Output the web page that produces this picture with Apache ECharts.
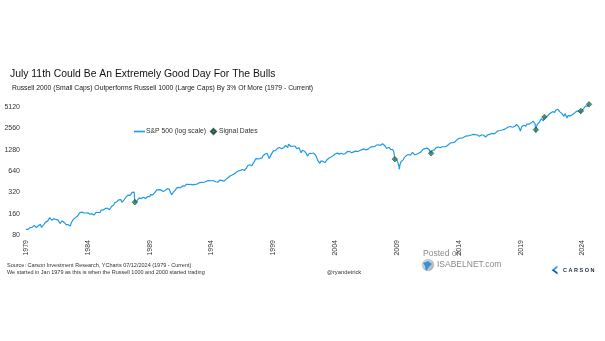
<!DOCTYPE html>
<html>
<head>
<meta charset="utf-8">
<script src="https://cdn.jsdelivr.net/npm/echarts@6/dist/echarts.min.js"></script>
<style>
  html, body { margin: 0; padding: 0; background: #ffffff; }
  #chart { width: 605px; height: 341px; }
</style>
</head>
<body>
<div id="chart"></div>
<script>
// S&P 500 month-end closes, one row per year, starting January 1979
const startValue = 96.11; // close on the first day of 1979
const closes1979to1988 = [
  99.93, 96.28, 101.59, 101.76, 99.08, 102.91, 103.81, 109.32, 109.32, 101.82, 106.16, 107.94,
  114.16, 113.66, 102.09, 106.29, 111.24, 114.24, 121.67, 122.38, 125.46, 127.47, 140.52, 135.76,
  129.55, 131.27, 136.00, 132.81, 132.59, 131.21, 130.92, 122.79, 116.18, 121.89, 126.35, 122.55,
  120.40, 113.11, 111.96, 116.44, 111.88, 109.61, 107.09, 119.51, 120.42, 133.71, 138.54, 140.64,
  145.30, 148.06, 152.96, 164.42, 162.39, 168.11, 162.56, 164.40, 166.07, 163.55, 166.40, 164.93,
  163.41, 157.06, 159.18, 160.05, 150.55, 153.18, 150.66, 166.68, 166.10, 166.09, 163.58, 167.24,
  179.63, 181.18, 180.66, 179.83, 189.55, 191.85, 190.92, 188.63, 182.08, 189.82, 202.17, 211.28,
  211.78, 226.92, 238.90, 235.52, 247.35, 250.84, 236.12, 252.93, 231.32, 243.98, 249.22, 242.17,
  274.08, 284.20, 291.70, 288.36, 290.10, 304.00, 318.66, 329.80, 321.83, 251.79, 230.30, 247.08,
  257.07, 267.82, 258.89, 261.33, 262.16, 273.50, 272.02, 261.52, 271.91, 278.97, 273.70, 277.72
];
const closes1989to1998 = [
  297.47, 288.86, 294.87, 309.64, 320.52, 317.98, 346.08, 351.45, 349.15, 340.36, 345.99, 353.40,
  329.08, 331.89, 339.94, 330.80, 361.23, 358.02, 356.15, 322.56, 306.05, 304.00, 322.22, 330.22,
  343.93, 367.07, 375.22, 375.35, 389.83, 371.16, 387.81, 395.43, 387.86, 392.46, 375.22, 417.09,
  408.79, 412.70, 403.69, 414.95, 415.35, 408.14, 424.21, 414.03, 417.80, 418.68, 431.35, 435.71,
  438.78, 443.38, 451.67, 440.19, 450.19, 450.53, 448.13, 463.56, 458.93, 467.83, 461.79, 466.45,
  481.61, 467.14, 445.77, 450.91, 456.50, 444.27, 458.26, 475.49, 462.69, 472.35, 453.69, 459.27,
  470.42, 487.39, 500.71, 514.71, 533.40, 544.75, 562.06, 561.88, 584.41, 581.50, 605.37, 615.93,
  636.02, 640.43, 645.50, 654.17, 669.12, 670.63, 639.95, 651.99, 687.31, 705.27, 757.02, 740.74,
  786.16, 790.82, 757.12, 801.34, 848.28, 885.14, 954.31, 899.47, 947.28, 914.62, 955.40, 970.43,
  980.28, 1049.34, 1101.75, 1111.75, 1090.82, 1133.84, 1120.67, 957.28, 1017.01, 1098.67, 1163.63, 1229.23
];
const closes1999to2008 = [
  1279.64, 1238.33, 1286.37, 1335.18, 1301.84, 1372.71, 1328.72, 1320.41, 1282.71, 1362.93, 1388.91, 1469.25,
  1394.46, 1366.42, 1498.58, 1452.43, 1420.60, 1454.60, 1430.83, 1517.68, 1436.51, 1429.40, 1314.95, 1320.28,
  1366.01, 1239.94, 1160.33, 1249.46, 1255.82, 1224.42, 1211.23, 1133.58, 1040.94, 1059.78, 1139.45, 1148.08,
  1130.20, 1106.73, 1147.39, 1076.92, 1067.14, 989.82, 911.62, 916.07, 815.28, 885.76, 936.31, 879.82,
  855.70, 841.15, 848.18, 916.92, 963.59, 974.50, 990.31, 1008.01, 995.97, 1050.71, 1058.20, 1111.92,
  1131.13, 1144.94, 1126.21, 1107.30, 1120.68, 1140.84, 1101.72, 1104.24, 1114.58, 1130.20, 1173.82, 1211.92,
  1181.27, 1203.60, 1180.59, 1156.85, 1191.50, 1191.33, 1234.18, 1220.33, 1228.81, 1207.01, 1249.48, 1248.29,
  1280.08, 1280.66, 1294.87, 1310.61, 1270.09, 1270.20, 1276.66, 1303.82, 1335.85, 1377.94, 1400.63, 1418.30,
  1438.24, 1406.82, 1420.86, 1482.37, 1530.62, 1503.35, 1455.27, 1473.99, 1526.75, 1549.38, 1481.14, 1468.36,
  1378.55, 1330.63, 1322.70, 1385.59, 1400.38, 1280.00, 1267.38, 1282.83, 1166.36, 968.75, 896.24, 903.25
];
const closes2009to2018 = [
  825.88, 735.09, 797.87, 872.81, 919.14, 919.32, 987.48, 1020.62, 1057.08, 1036.19, 1095.63, 1115.10,
  1073.87, 1104.49, 1169.43, 1186.69, 1089.41, 1030.71, 1101.60, 1049.33, 1141.20, 1183.26, 1180.55, 1257.64,
  1286.12, 1327.22, 1325.83, 1363.61, 1345.20, 1320.64, 1292.28, 1218.89, 1131.42, 1253.30, 1246.96, 1257.60,
  1312.41, 1365.68, 1408.47, 1397.91, 1310.33, 1362.16, 1379.32, 1406.58, 1440.67, 1412.16, 1416.18, 1426.19,
  1498.11, 1514.68, 1569.19, 1597.57, 1630.74, 1606.28, 1685.73, 1632.97, 1681.55, 1756.54, 1805.81, 1848.36,
  1782.59, 1859.45, 1872.34, 1883.95, 1923.57, 1960.23, 1930.67, 2003.37, 1972.29, 2018.05, 2067.56, 2058.90,
  1994.99, 2104.50, 2067.89, 2085.51, 2107.39, 2063.11, 2103.84, 1972.18, 1920.03, 2079.36, 2080.41, 2043.94,
  1940.24, 1932.23, 2059.74, 2065.30, 2096.95, 2098.86, 2173.60, 2170.95, 2168.27, 2126.15, 2198.81, 2238.83,
  2278.87, 2363.64, 2362.72, 2384.20, 2411.80, 2423.41, 2470.30, 2471.65, 2519.36, 2575.26, 2647.58, 2673.61,
  2823.81, 2713.83, 2640.87, 2648.05, 2705.27, 2718.37, 2816.29, 2901.52, 2913.98, 2711.74, 2760.17, 2506.85
];
const closes2019to2024 = [
  2704.10, 2784.49, 2834.40, 2945.83, 2752.06, 2941.76, 2980.38, 2926.46, 2976.74, 3037.56, 3140.98, 3230.78,
  3225.52, 2954.22, 2584.59, 2912.43, 3044.31, 3100.29, 3271.12, 3500.31, 3363.00, 3269.96, 3621.63, 3756.07,
  3714.24, 3811.15, 3972.89, 4181.17, 4204.11, 4297.50, 4395.26, 4522.68, 4307.54, 4605.38, 4567.00, 4766.18,
  4515.55, 4373.94, 4530.41, 4131.93, 4132.15, 3785.38, 4130.29, 3955.00, 3585.62, 3871.98, 4080.11, 3839.50,
  4076.60, 3970.15, 4109.31, 4169.48, 4179.83, 4450.38, 4588.96, 4507.66, 4288.05, 4193.80, 4567.80, 4769.83,
  4845.65, 5096.27, 5254.35, 5035.69, 5277.51, 5460.48
];

// Intra-month highs and lows that the month-end closes would miss
const swingDates  = ['1982-08-12', '1987-10-19', '1990-10-11', '2000-03-24', '2002-10-09', '2007-10-09', '2009-03-09', '2018-12-24', '2020-02-19', '2020-03-23', '2022-10-12'];
const swingValues = [102.42, 224.84, 295.46, 1527.46, 776.76, 1565.15, 676.53, 2351.10, 3386.15, 2237.40, 3577.03];

// Days when the Russell 2000 beat the Russell 1000 by 3% or more
const signalDates  = ['1987-10-20', '2008-10-28', '2011-10-04', '2020-03-24', '2020-12-04', '2023-11-14', '2024-07-11'];
const signalValues = [232, 940, 1135, 2447, 3700, 4496, 5585];

// Axis ticks
const baseYear = 1979;
const yearStep = 5;
const yTickBase = 10; // labels are 10 * 2^n: 80, 160, ..., 5120

const monthlyCloses = [].concat(closes1979to1988, closes1989to1998, closes1999to2008, closes2009to2018, closes2019to2024);

// years elapsed since 1 Jan 1979
function yearsSinceBase(dateStr) {
  const [y, m, d] = dateStr.split('-').map(Number);
  const s = Date.UTC(y, 0, 1), e = Date.UTC(y + 1, 0, 1);
  return (y - baseYear) + (Date.UTC(y, m - 1, d) - s) / (e - s);
}
const log2Scale = v => Math.log2(v / yTickBase);

const linePoints = [[0, startValue]];
monthlyCloses.forEach((v, i) => linePoints.push([(i + 1) / 12, v]));
swingDates.forEach((d, i) => linePoints.push([yearsSinceBase(d), swingValues[i]]));
signalDates.forEach((d, i) => linePoints.push([yearsSinceBase(d), signalValues[i]]));
linePoints.sort((a, b) => a[0] - b[0]);

const lineData = linePoints.map(p => [p[0], log2Scale(p[1])]);
const signalData = signalDates.map((d, i) => [yearsSinceBase(d), log2Scale(signalValues[i])]);
const xMax = yearsSinceBase(signalDates[signalDates.length - 1]);

const FONT = '"Liberation Sans", Arial, sans-serif';
const LINE_NAME = 'S&P 500 (log scale)';
const SIGNAL_NAME = 'Signal Dates';
const legendText = { fontSize: 6.8, color: '#333333', fontFamily: FONT };

const chart = echarts.init(document.getElementById('chart'), null, { renderer: 'canvas' });

chart.setOption({
  backgroundColor: '#ffffff',
  animation: false,
  grid: { left: 26, right: 16, top: 107, bottom: 106, containLabel: false },
  xAxis: {
    type: 'value',
    min: 0,
    max: xMax,
    interval: yearStep,
    axisLine: { show: false },
    axisTick: { show: false },
    splitLine: { show: false },
    axisLabel: {
      rotate: 90,
      margin: 5,
      fontSize: 7,
      color: '#333333',
      fontFamily: FONT,
      showMaxLabel: false,
      formatter: v => String(baseYear + Math.round(v))
    }
  },
  yAxis: {
    type: 'value',
    min: 3,
    max: 9,
    interval: 1,
    axisLine: { show: false },
    axisTick: { show: false },
    splitLine: { show: false },
    axisLabel: {
      margin: 6,
      fontSize: 7,
      color: '#333333',
      fontFamily: FONT,
      formatter: v => String(Math.round(yTickBase * Math.pow(2, v)))
    }
  },
  legend: [
    {
      left: 129,
      top: 123,
      itemWidth: 11,
      itemHeight: 4,
      textStyle: Object.assign({ padding: [0, 0, 0, -4] }, legendText),
      data: [{ name: LINE_NAME, icon: 'path://M0,0H20V3H0Z' }]
    },
    {
      left: 205,
      top: 123,
      itemWidth: 5,
      itemHeight: 5,
      textStyle: Object.assign({ padding: [0, 0, 0, -2] }, legendText),
      data: [{ name: SIGNAL_NAME, icon: 'diamond' }]
    }
  ],
  series: [
    {
      name: LINE_NAME,
      type: 'line',
      data: lineData,
      showSymbol: false,
      symbol: 'none',
      clip: false,
      color: '#1f9be6',
      lineStyle: { width: 1.2, color: '#1f9be6' },
      z: 2
    },
    {
      name: SIGNAL_NAME,
      type: 'scatter',
      data: signalData,
      symbol: 'diamond',
      symbolSize: 5.5,
      clip: false,
      color: '#27805a',
      itemStyle: { color: '#27805a', borderColor: '#153f2b', borderWidth: 0.7 },
      z: 3
    }
  ],
  graphic: [
    { type: 'text', left: 10, top: 69.5,
      style: { text: 'July 11th Could Be An Extremely Good Day For The Bulls', font: '10.4px ' + FONT, fill: '#111111' } },
    { type: 'text', left: 12, top: 85,
      style: { text: 'Russell 2000 (Small Caps) Outperforms Russell 1000 (Large Caps) By 3% Of More (1979 - Current)', font: '6.8px ' + FONT, fill: '#222222' } },
    { type: 'text', left: 7, top: 262.5,
      style: { text: 'Source: Carson Investment Research, YCharts 07/12/2024 (1979 - Current)', font: '5.5px ' + FONT, fill: '#333333' } },
    { type: 'text', left: 7, top: 269,
      style: { text: 'We started in Jan 1979 as this is when the Russell 1000 and 2000 started trading', font: '5.5px ' + FONT, fill: '#333333' } },
    { type: 'text', left: 327, top: 269,
      style: { text: '@ryandetrick', font: '5.8px ' + FONT, fill: '#333333' } },
    { type: 'text', left: 423, top: 249,
      style: { text: 'Posted on', font: '8.5px ' + FONT, fill: '#8a8a8a' } },
    { type: 'circle', shape: { cx: 428, cy: 265, r: 6 },
      style: { fill: new echarts.graphic.RadialGradient(0.4, 0.4, 0.7, [
        { offset: 0, color: '#e8eef3' }, { offset: 1, color: '#9aa6b0' }]), stroke: '#c8ced4', lineWidth: 0.5 } },
    { type: 'polygon', shape: { points: [[423, 263], [428, 261], [432, 264], [429, 267], [426, 271], [425, 266]] },
      style: { fill: '#3d8fd0' } },
    { type: 'text', left: 437, top: 260,
      style: { text: 'ISABELNET.com', font: '8.5px ' + FONT, fill: '#8a8a8a' } },
    { type: 'polygon', shape: { points: [[557.5, 265.5], [551.5, 270], [554.5, 270], [557.5, 267.8]] },
      style: { fill: '#27a3e8' } },
    { type: 'polygon', shape: { points: [[551.5, 270], [557.5, 274.5], [557.5, 272.2], [554.5, 270]] },
      style: { fill: '#0b5ea8' } },
    { type: 'text', left: 563, top: 267.5,
      style: { text: 'C A R S O N', font: 'bold 5.5px ' + FONT, fill: '#1a2a3a' } }
  ]
});
</script>
</body>
</html>
